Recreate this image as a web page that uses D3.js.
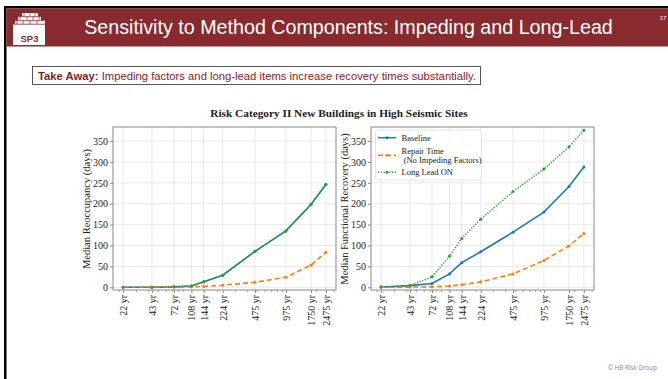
<!DOCTYPE html>
<html><head><meta charset="utf-8">
<script src="https://cdn.jsdelivr.net/npm/d3@7"></script>
<style>body{margin:0;background:#fff}svg{display:block}</style>
</head><body>
<svg id="c" width="668" height="379"></svg>
<script>
const returnPeriods = [22, 43, 72, 108, 144, 224, 475, 975, 1750, 2475];
const tickLabels = ["22 yr","43 yr","72 yr","108 yr","144 yr","224 yr","475 yr","975 yr","1750 yr","2475 yr"];
const yTicks = [0, 50, 100, 150, 200, 250, 300, 350];
// Left panel: Median Reoccupancy (days)
const reoccBaseline = [0, 0, 1, 3, 13, 29, 86, 135, 198, 246];
const reoccRepair   = [0, 0, 0.5, 1, 2, 5, 12, 24, 53, 84];
const reoccLongLead = [0, 0, 1, 3, 13, 29, 86, 135, 198, 246];
// Right panel: Median Functional Recovery (days)
const frBaseline = [0, 4, 9, 32, 59, 85, 132, 180, 241, 288];
const frRepair   = [0, 0.5, 1, 3, 6, 13, 32, 64, 99, 129];
const frLongLead = [1, 4, 25, 74, 117, 163, 229, 283, 336, 376];
const seriesNames = ["Baseline", "Repair Time\n (No Impeding Factors)", "Long Lead ON"];
const colors = ["#1f77b4", "#ff7f0e", "#2ca02c"];
const dashes = [null, "5,3", "1.2,1.6"];

const svg = d3.select("#c");
const SANS = "'Liberation Sans', Arial, sans-serif";
const SERIF = "'Liberation Serif', 'Times New Roman', serif";
const RED = "#892a2e";

// Slide frame
svg.append("rect").attr("x",4).attr("y",6).attr("width",664).attr("height",2.5).attr("fill","#000");
svg.append("rect").attr("x",4).attr("y",6).attr("width",2.5).attr("height",373).attr("fill","#000");
svg.append("rect").attr("x",6.5).attr("y",8.5).attr("width",661.5).attr("height",38).attr("fill",RED);
// Logo
const lg = svg.append("g");
lg.append("path").attr("fill","#fff")
  .attr("d","M13,45 L13,24 L15,24 L15,20.5 L18,20.5 L18,16.5 L22,16.5 L22,13 L38,13 L38,16.5 L41,16.5 L41,20.5 L45,20.5 L45,45 Z");
[[13,24,45],[15,20.5,44],[18,16.5,41]].forEach(([x1,yy,x2])=>{
  lg.append("line").attr("x1",x1).attr("x2",x2).attr("y1",yy+0.2).attr("y2",yy+0.2).attr("stroke",RED).attr("stroke-width",0.8);
});
[[24,13,16.5],[30,13,16.5],[35,13,16.5],[20,16.5,20.5],[27,16.5,20.5],[33,16.5,20.5],[39,16.5,20.5],[17,20.5,24],[23,20.5,24],[30,20.5,24],[37,20.5,24]].forEach(([xx,y1,y2])=>{
  lg.append("line").attr("x1",xx).attr("x2",xx).attr("y1",y1).attr("y2",y2).attr("stroke",RED).attr("stroke-width",0.7);
});
lg.append("text").attr("x",29.5).attr("y",41.5).attr("text-anchor","middle").attr("font-family",SANS)
  .attr("font-weight","bold").attr("font-size",9.5).attr("fill",RED).text("SP3");
svg.append("text").attr("x",348.5).attr("y",34).attr("text-anchor","middle").attr("font-family",SANS)
  .attr("font-size",19.7).attr("fill","#fff").text("Sensitivity to Method Components: Impeding and Long-Lead");
svg.append("text").attr("x",663).attr("y",19.5).attr("text-anchor","middle").attr("font-family",SANS)
  .attr("font-size",6).attr("fill","#fff").text("17");

// Take away
svg.append("rect").attr("x",32.5).attr("y",66.5).attr("width",448).attr("height",18).attr("fill","#fff")
  .attr("stroke","#555").attr("stroke-width",1);
const ta = svg.append("text").attr("x",38).attr("y",79.5).attr("font-family",SANS).attr("font-size",11.1).attr("fill","#8b1a1e")
  .attr("textLength",438).attr("lengthAdjust","spacingAndGlyphs");
ta.append("tspan").attr("font-weight","bold").text("Take Away:");
ta.append("tspan").text(" Impeding factors and long-lead items increase recovery times substantially.");

// Chart title
svg.append("text").attr("x",339).attr("y",117).attr("text-anchor","middle").attr("font-family",SERIF)
  .attr("font-weight","bold").attr("font-size",11.3).attr("fill","#222")
  .text("Risk Category II New Buildings in High Seismic Sites");

const lo = Math.log10(22), hi = Math.log10(2475), m = (hi-lo)*0.05;
const xDomain = [Math.pow(10, lo-m), Math.pow(10, hi+m)];
const y = d3.scaleLinear().domain([-6.5, 383.6]).range([290, 127]);

function panel(x0, x1, data, ylab, legend) {
  const x = d3.scaleLog().domain(xDomain).range([x0, x1]);
  const g = svg.append("g");
  // grid
  g.append("g").selectAll("line").data(returnPeriods).join("line")
    .attr("x1", d=>x(d)).attr("x2", d=>x(d)).attr("y1",127).attr("y2",290).attr("stroke","#e3e3e3").attr("stroke-width",0.8);
  g.append("g").selectAll("line").data(yTicks).join("line")
    .attr("x1",x0).attr("x2",x1).attr("y1",d=>y(d)).attr("y2",d=>y(d)).attr("stroke","#e3e3e3").attr("stroke-width",0.8);
  // axes
  const ya = g.append("g").attr("transform",`translate(${x0},0)`)
    .call(d3.axisLeft(y).tickValues(yTicks).tickSize(3).tickPadding(2));
  const xa = g.append("g").attr("transform",`translate(0,290)`)
    .call(d3.axisBottom(x).tickValues(returnPeriods).tickFormat((d,i)=>tickLabels[i]).tickSize(3).tickPadding(3));
  xa.selectAll("text").attr("transform","rotate(-90)").attr("text-anchor","end").attr("dy","0.33em").attr("x",-5).attr("y",0);
  // minor ticks
  const minors = [];
  [10,100,1000].forEach(b=>{for(let k=2;k<=9;k++){const v=b*k; if(v>=xDomain[0]&&v<=xDomain[1]) minors.push(v);}});
  g.append("g").selectAll("line").data(minors).join("line")
    .attr("x1",d=>x(d)).attr("x2",d=>x(d)).attr("y1",290).attr("y2",292).attr("stroke","#666").attr("stroke-width",0.6);
  [ya, xa].forEach(a=>{
    a.select(".domain").remove();
    a.selectAll("line").attr("stroke","#555").attr("stroke-width",0.7);
    a.selectAll("text").attr("font-family",SERIF).attr("font-size",10).attr("fill","#222");
  });
  g.append("rect").attr("x",x0).attr("y",127).attr("width",x1-x0).attr("height",163)
    .attr("fill","none").attr("stroke","#888").attr("stroke-width",1);
  // lines
  const line = d3.line().x((d,i)=>x(returnPeriods[i])).y(d=>y(d));
  data.forEach((s,k)=>{
    g.append("path").datum(s).attr("d",line).attr("fill","none").attr("stroke",colors[k])
      .attr("stroke-width",1.6).attr("stroke-dasharray",dashes[k]);
    g.append("g").selectAll("circle").data(s).join("circle")
      .attr("cx",(d,i)=>x(returnPeriods[i])).attr("cy",d=>y(d)).attr("r",1.5).attr("fill",colors[k]);
  });
  // y label
  svg.append("text").attr("transform",`translate(${x0-23},209) rotate(-90)`).attr("text-anchor","middle")
    .attr("font-family",SERIF).attr("font-size",10.5).attr("fill","#222").text(ylab);
  if (legend) {
    const lgd = g.append("g");
    lgd.append("rect").attr("x",x0+4.5).attr("y",130).attr("width",106).attr("height",50).attr("rx",2)
      .attr("fill","#fff").attr("fill-opacity",0.85).attr("stroke","#ddd").attr("stroke-width",0.8);
    const rows = [137.7, 155.3, 172.3];
    seriesNames.forEach((n,k)=>{
      const yy = rows[k];
      lgd.append("line").attr("x1",x0+7).attr("x2",x0+25).attr("y1",yy).attr("y2",yy).attr("stroke",colors[k])
        .attr("stroke-width",1.5).attr("stroke-dasharray",dashes[k]);
      lgd.append("circle").attr("cx",x0+16).attr("cy",yy).attr("r",1.5).attr("fill",colors[k]);
      const lines = n.split("\n");
      const t = lgd.append("text").attr("font-family",SERIF).attr("font-size",8.5).attr("fill","#222");
      lines.forEach((ln,j)=>{
        t.append("tspan").attr("x",x0+30.5).attr("y", lines.length>1 ? yy-4.6+j*8.8+3 : yy+3).attr("xml:space","preserve").text(ln);
      });
    });
  }
}
panel(113, 336, [reoccBaseline, reoccRepair, reoccLongLead], "Median Reoccupancy (days)", false);
panel(371, 594, [frBaseline, frRepair, frLongLead], "Median Functional Recovery (days)", true);

svg.append("text").attr("x",657).attr("y",370).attr("text-anchor","end").attr("font-family","'Open Sans', sans-serif")
  .attr("font-size",6.3).attr("fill","#888").text("© HB Risk Group");
</script>
</body></html>
